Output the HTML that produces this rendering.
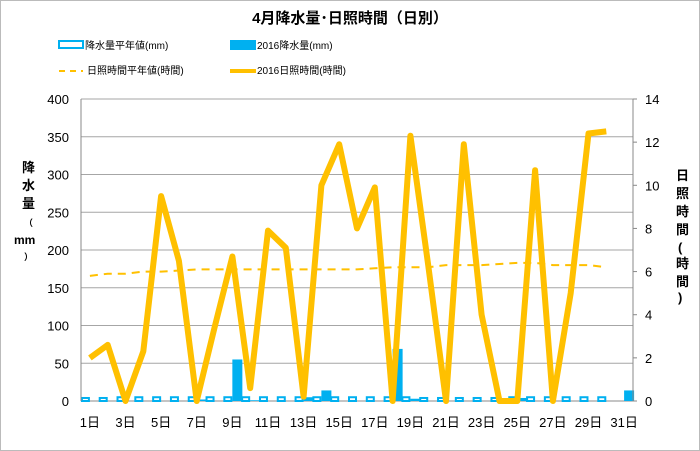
<!DOCTYPE html>
<html><head><meta charset="utf-8"><style>
body{margin:0;background:#fff;}
svg{display:block;font-family:"Liberation Sans","Noto Sans CJK JP",sans-serif;}
</style></head><body>
<svg id="chart" width="700" height="451" viewBox="0 0 700 451">
<rect x="0.5" y="0.5" width="699" height="450" fill="#fff" stroke="#bbb"/>
<text x="350" y="23" text-anchor="middle" font-size="15" font-weight="bold">4月降水量･日照時間（日別）</text>
<g>
<g><rect x="59" y="41" width="24" height="7" fill="#fff" stroke="#00b0f0" stroke-width="2"/><text x="85" y="49" font-size="10">降水量平年値(mm)</text></g>
<g><rect x="230" y="40" width="26" height="10" fill="#00b0f0"/><text x="257" y="49" font-size="10">2016降水量(mm)</text></g>
<g><line x1="59" y1="71" x2="83" y2="71" stroke="#ffc000" stroke-width="2" stroke-dasharray="6,5"/><text x="87" y="74" font-size="10">日照時間平年値(時間)</text></g>
<g><line x1="230" y1="71" x2="256" y2="71" stroke="#ffc000" stroke-width="4"/><text x="257" y="74" font-size="10">2016日照時間(時間)</text></g>
</g>
<g id="grid"></g>
<g id="bars"></g>
<g id="lines"></g>
<g id="axes"></g>
<text font-size="13" font-weight="bold"><tspan x="22" y="172">降</tspan><tspan x="22" y="190">水</tspan><tspan x="22" y="208">量</tspan><tspan x="24" y="226" font-size="9">（</tspan><tspan x="14" y="244" font-size="12">mm</tspan><tspan x="24" y="260" font-size="9">）</tspan></text>
<text font-size="13" font-weight="bold"><tspan x="676" y="180">日</tspan><tspan x="676" y="198">照</tspan><tspan x="676" y="216">時</tspan><tspan x="676" y="234">間</tspan><tspan x="678" y="252">(</tspan><tspan x="676" y="268">時</tspan><tspan x="676" y="286">間</tspan><tspan x="678" y="302">)</tspan></text>
</svg>
<script>
const days=[1,2,3,4,5,6,7,8,9,10,11,12,13,14,15,16,17,18,19,20,21,22,23,24,25,26,27,28,29,30,31];
const precipNormal=[4,4,5,5,5,5,5,5,5,5,5,5,5,5,5,5,5,5,5,4,4,4,4,4,5,5,5,5,5,5,null];
const precip2016=[0,0,0,0,0,0,2,0,55,1,0,0,5,14,0,0,0,69,3,0,0,0,0,0,4,0,0,0,0,0,14];
const sunNormal=[5.8,5.9,5.9,6.0,6.0,6.05,6.1,6.1,6.1,6.1,6.1,6.1,6.1,6.1,6.1,6.1,6.15,6.2,6.2,6.2,6.3,6.3,6.3,6.35,6.4,6.4,6.3,6.3,6.3,6.2,null];
const sun2016=[2.0,2.6,0,2.3,9.5,6.5,0,3.4,6.7,0.6,7.9,7.1,0.2,10.0,11.9,8.0,9.9,0,12.3,6.3,0,11.9,4.0,0,0,10.7,0,5.0,12.4,12.5,null];
const leftTicks=[0,50,100,150,200,250,300,350,400];
const rightTicks=[0,2,4,6,8,10,12,14];
const X0=81,X1=633,Y0=401,Y1=99,step=(X1-X0)/days.length;
const xc=i=>X0+step*(i+0.5);
const yl=v=>Y0-(v/400)*(Y0-Y1);
const yr=v=>Y0-(v/14)*(Y0-Y1);
const NS="http://www.w3.org/2000/svg";
function mk(tag,attrs,parent){const e=document.createElementNS(NS,tag);for(const k in attrs)e.setAttribute(k,attrs[k]);document.getElementById(parent).appendChild(e);return e;}
leftTicks.forEach(t=>{
 const g=mk('line',{x1:X0,x2:X1,y1:yl(t),y2:yl(t),stroke:t===0?'#888':'#a6a6a6','stroke-width':1},'grid');
 
 
 const l=mk('text',{x:X0-12,y:yl(t)+5,'text-anchor':'end','font-size':13},'axes');l.textContent=t;
 
 
});
mk('line',{x1:X0,x2:X0,y1:Y1,y2:Y0,stroke:'#888'},'axes');
mk('line',{x1:X1,x2:X1,y1:Y1,y2:Y0,stroke:'#888'},'axes');
rightTicks.forEach(t=>{
 mk('line',{x1:X1,x2:X1+4,y1:yr(t),y2:yr(t),stroke:'#888'},'axes');
 const l=mk('text',{x:X1+12,y:yr(t)+5,'font-size':13},'axes');l.textContent=t;
 
 
});
days.forEach((d,i)=>{
 if(d%2===1){const l=mk('text',{x:xc(i),y:Y0+26,'text-anchor':'middle','font-size':13},'axes');l.textContent=d+'日';
 
 }
 if(precipNormal[i]!=null){const h=Math.max(yl(0)-yl(precipNormal[i]),3);
  const b=mk('rect',{x:xc(i)-8,y:Y0-h,width:7,height:h,fill:'#fff',stroke:'#00b0f0','stroke-width':2},'bars');
  
  }
 if(precip2016[i]>0){const h=yl(0)-yl(precip2016[i]);
  const b=mk('rect',{x:xc(i),y:Y0-h,width:10,height:h,fill:'#00b0f0'},'bars');
  
  }
});
function path(arr,f){let s='';arr.forEach((v,i)=>{if(v!=null)s+=(s?'L':'M')+xc(i).toFixed(1)+','+f(v).toFixed(1);});return s;}
const ln=mk('path',{d:path(sunNormal,yr),fill:'none',stroke:'#ffc000','stroke-width':2,'stroke-dasharray':'8,6'},'lines');


const l2=mk('path',{d:path(sun2016,yr),fill:'none',stroke:'#ffc000','stroke-width':6,'stroke-linejoin':'round'},'lines');


</script>
</body></html>
